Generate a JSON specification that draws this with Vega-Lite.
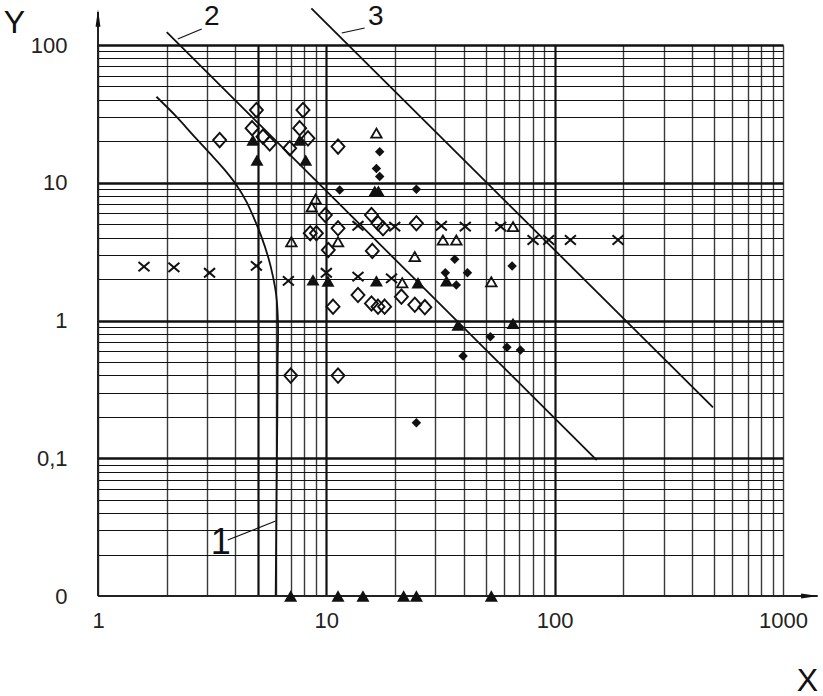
{
  "$schema": "https://vega.github.io/schema/vega-lite/v6.json",
  "width": 685,
  "height": 551,
  "autosize": {"type": "none"},
  "padding": {"left": 98, "top": 45, "right": 40, "bottom": 100},
  "background": "white",
  "config": {"view": {"stroke": null}, "font": "Liberation Sans"},
  "datasets": {
    "curves": [
      {"c": "1", "x": 1.803, "y": 42.1}, {"c": "1", "x": 2.205, "y": 30.2}, {"c": "1", "x": 2.607, "y": 22.2},
      {"c": "1", "x": 3.084, "y": 16.4}, {"c": "1", "x": 3.588, "y": 12.4}, {"c": "1", "x": 4.038, "y": 9.63},
      {"c": "1", "x": 4.466, "y": 7.29}, {"c": "1", "x": 4.857, "y": 5.37}, {"c": "1", "x": 5.195, "y": 4.06},
      {"c": "1", "x": 5.554, "y": 2.91}, {"c": "1", "x": 5.84, "y": 2.08}, {"c": "1", "x": 6.043, "y": 1.49},
      {"c": "1", "x": 6.142, "y": 0.954}, {"c": "1", "x": 6.12, "y": 0.5}, {"c": "1", "x": 6.1, "y": 0.2},
      {"c": "1", "x": 6.05, "y": 0.05}, {"c": "1", "x": 6.0, "y": 0.01},
      {"c": "2", "x": 2.0, "y": 124}, {"c": "2", "x": 152.8, "y": 0.097},
      {"c": "3", "x": 8.6, "y": 184.6}, {"c": "3", "x": 493.7, "y": 0.234}
    ],
    "leaders": [
      {"c": "1", "x": 3.70, "y": 0.0255}, {"c": "1", "x": 6.0, "y": 0.035},
      {"c": "2", "x": 2.234, "y": 110.6}, {"c": "2", "x": 2.846, "y": 130.7},
      {"c": "3", "x": 11.68, "y": 122.2}, {"c": "3", "x": 14.72, "y": 132.9}
    ],
    "axislines": [
      {"a": "x", "x": 1, "y": 0.01}, {"a": "x", "x": 1419, "y": 0.01},
      {"a": "y", "x": 1, "y": 0.01}, {"a": "y", "x": 1, "y": 173.6}
    ],
    "heads": [
      {"k": "x", "x": 1309, "y": 0.01},
      {"k": "y", "x": 1, "y": 157}
    ],
    "labels23": [
      {"t": "2", "x": 3.148, "y": 159.6},
      {"t": "3", "x": 16.45, "y": 159.6}
    ],
    "labels1": [
      {"t": "1", "x": 3.445, "y": 0.0243}
    ],
    "od": [
      {"x": 3.41, "y": 20.4}, {"x": 4.94, "y": 33.7}, {"x": 4.73, "y": 24.9}, {"x": 5.28, "y": 21.6},
      {"x": 5.65, "y": 19.3}, {"x": 7.9, "y": 33.7}, {"x": 7.64, "y": 24.9}, {"x": 8.31, "y": 21.0},
      {"x": 6.91, "y": 17.8}, {"x": 11.25, "y": 18.3}, {"x": 9.9, "y": 5.83}, {"x": 8.5, "y": 4.3},
      {"x": 9.05, "y": 4.3}, {"x": 11.25, "y": 4.67}, {"x": 10.2, "y": 3.25}, {"x": 15.76, "y": 5.83},
      {"x": 16.84, "y": 5.08}, {"x": 17.71, "y": 4.67}, {"x": 24.8, "y": 5.08}, {"x": 15.9, "y": 3.2},
      {"x": 13.76, "y": 1.53}, {"x": 10.7, "y": 1.26}, {"x": 15.76, "y": 1.33}, {"x": 16.84, "y": 1.26},
      {"x": 18.0, "y": 1.26}, {"x": 21.32, "y": 1.49}, {"x": 24.4, "y": 1.3}, {"x": 27.0, "y": 1.25},
      {"x": 6.98, "y": 0.398}, {"x": 11.25, "y": 0.398}
    ],
    "fd": [
      {"x": 17.13, "y": 16.8}, {"x": 16.57, "y": 12.7}, {"x": 17.13, "y": 11.1}, {"x": 11.44, "y": 8.86},
      {"x": 24.8, "y": 8.97}, {"x": 36.5, "y": 2.78}, {"x": 33.2, "y": 2.22}, {"x": 41.5, "y": 2.22},
      {"x": 65.1, "y": 2.49}, {"x": 37.1, "y": 1.81}, {"x": 52.3, "y": 0.763}, {"x": 61.8, "y": 0.64},
      {"x": 70.8, "y": 0.611}, {"x": 39.7, "y": 0.552}, {"x": 24.8, "y": 0.181}
    ],
    "ot": [
      {"x": 16.57, "y": 22.9}, {"x": 8.98, "y": 7.62}, {"x": 8.63, "y": 6.67}, {"x": 7.03, "y": 3.73},
      {"x": 11.25, "y": 3.73}, {"x": 24.4, "y": 2.91}, {"x": 32.4, "y": 3.84}, {"x": 37.1, "y": 3.84},
      {"x": 65.7, "y": 4.8}, {"x": 52.8, "y": 1.91}, {"x": 21.5, "y": 1.88}
    ],
    "ft": [
      {"x": 4.77, "y": 20.4}, {"x": 4.97, "y": 14.6}, {"x": 7.64, "y": 20.4}, {"x": 8.12, "y": 14.6},
      {"x": 16.3, "y": 8.7}, {"x": 16.9, "y": 8.7}, {"x": 8.74, "y": 1.97}, {"x": 10.17, "y": 1.93},
      {"x": 16.57, "y": 1.94}, {"x": 25.2, "y": 1.88}, {"x": 33.6, "y": 1.94}, {"x": 37.7, "y": 0.927},
      {"x": 65.7, "y": 0.954},
      {"x": 6.98, "y": 0.01}, {"x": 11.25, "y": 0.01}, {"x": 14.47, "y": 0.01}, {"x": 21.8, "y": 0.01},
      {"x": 24.8, "y": 0.01}, {"x": 52.8, "y": 0.01}
    ],
    "cr": [
      {"x": 1.59, "y": 2.46}, {"x": 2.15, "y": 2.43}, {"x": 3.08, "y": 2.22}, {"x": 4.94, "y": 2.49},
      {"x": 6.82, "y": 1.94}, {"x": 10.0, "y": 2.22}, {"x": 13.76, "y": 2.08}, {"x": 19.3, "y": 2.02},
      {"x": 13.76, "y": 4.87}, {"x": 19.93, "y": 4.8}, {"x": 31.9, "y": 4.87}, {"x": 40.6, "y": 4.8},
      {"x": 58.0, "y": 4.8}, {"x": 80.4, "y": 3.84}, {"x": 94.2, "y": 3.84}, {"x": 117.2, "y": 3.84},
      {"x": 189.4, "y": 3.84}
    ]
  },
  "encoding": {
    "x": {
      "field": "x",
      "type": "quantitative",
      "scale": {"type": "log", "domain": [1, 1000], "nice": false, "zero": false},
      "axis": {
        "values": [1, 2, 3, 4, 5, 6, 7, 8, 9, 10, 20, 30, 40, 50, 60, 70, 80, 90, 100, 200, 300, 400, 500, 600, 700, 800, 900, 1000],
        "labelExpr": "indexof([1, 10, 100, 1000], datum.value) >= 0 ? format(datum.value, 'd') : ''",
        "labelOverlap": false,
        "labelFlush": false,
        "labelBound": false,
        "labelFontSize": 22,
        "labelFont": "Liberation Sans",
        "labelColor": "#222",
        "labelPadding": 14,
        "ticks": false,
        "tickSize": 0,
        "domain": false,
        "grid": true,
        "gridColor": {"condition": {"test": "indexof([5, 10, 100], datum.value) >= 0", "value": "#111"}, "value": "#3a3a3a"},
        "gridWidth": {"condition": {"test": "indexof([5, 10, 100], datum.value) >= 0", "value": 2.2}, "value": 1.4},
        "gridOpacity": 1,
        "title": "X",
        "titleAngle": 0,
        "titleX": 709,
        "titleY": 84,
        "titleAlign": "center",
        "titleBaseline": "middle",
        "titleFontSize": 32,
        "titleFontWeight": "normal",
        "titleFont": "Liberation Sans",
        "titleColor": "#111"
      }
    },
    "y": {
      "field": "y",
      "type": "quantitative",
      "scale": {"type": "log", "domain": [0.01, 100], "nice": false, "zero": false},
      "axis": {
        "values": [0.01, 0.02, 0.03, 0.04, 0.05, 0.06, 0.07, 0.08, 0.09, 0.1, 0.2, 0.3, 0.4, 0.5, 0.6, 0.7, 0.8, 0.9, 1, 2, 3, 4, 5, 6, 7, 8, 9, 10, 20, 30, 40, 50, 60, 70, 80, 90, 100],
        "labelExpr": "datum.value == 0.01 ? '0' : datum.value == 0.1 ? '0,1' : datum.value == 1 ? '1' : datum.value == 10 ? '10' : datum.value == 100 ? '100' : ''",
        "labelOverlap": false,
        "labelFlush": false,
        "labelBound": false,
        "labelFontSize": 22,
        "labelFont": "Liberation Sans",
        "labelColor": "#222",
        "labelPadding": 31,
        "labelBaseline": "middle",
        "ticks": false,
        "tickSize": 0,
        "domain": false,
        "grid": true,
        "gridColor": "#111",
        "gridWidth": {"condition": {"test": "datum.value == 0.1 || datum.value == 1 || datum.value == 10 || datum.value == 100", "value": 2.4}, "value": 1},
        "gridOpacity": 1,
        "title": "Y",
        "titleAngle": 0,
        "titleX": -84,
        "titleY": -23,
        "titleAlign": "center",
        "titleBaseline": "middle",
        "titleFontSize": 32,
        "titleFontWeight": "normal",
        "titleFont": "Liberation Sans",
        "titleColor": "#111"
      }
    }
  },
  "layer": [
    {
      "data": {"name": "curves"},
      "mark": {"type": "line", "color": "#111", "strokeWidth": 1.8, "interpolate": "catmull-rom"},
      "encoding": {"detail": {"field": "c"}, "order": {"field": "y", "sort": "descending"}}
    },
    {
      "data": {"name": "leaders"},
      "mark": {"type": "line", "color": "#111", "strokeWidth": 1.2},
      "encoding": {"detail": {"field": "c"}}
    },
    {
      "data": {"name": "axislines"},
      "mark": {"type": "line", "color": "#222", "strokeWidth": 2},
      "encoding": {"detail": {"field": "a"}, "order": {"field": "y"}}
    },
    {
      "data": {"name": "heads"},
      "mark": {"type": "point", "filled": true, "color": "#111", "opacity": 1, "size": 300},
      "encoding": {
        "shape": {"field": "k", "type": "nominal", "scale": {"domain": ["x", "y"], "range": ["M1,0L-1,-0.28L-1,0.28Z", "M0,-1L-0.28,1L0.28,1Z"]}, "legend": null}
      }
    },
    {
      "data": {"name": "od"},
      "mark": {"type": "point", "shape": "M0,-1.1L1,0L0,1.1L-1,0Z", "filled": false, "color": "#111", "opacity": 1, "strokeWidth": 1.9, "size": 169}
    },
    {
      "data": {"name": "ot"},
      "mark": {"type": "point", "shape": "triangle-up", "filled": false, "color": "#111", "opacity": 1, "strokeWidth": 1.8, "size": 110}
    },
    {
      "data": {"name": "cr"},
      "mark": {"type": "point", "shape": "M-1,-0.85L1,0.85M-1,0.85L1,-0.85", "filled": false, "color": "#111", "opacity": 1, "strokeWidth": 2, "size": 121}
    },
    {
      "data": {"name": "ft"},
      "mark": {"type": "point", "shape": "triangle-up", "filled": true, "color": "#111", "opacity": 1, "size": 170}
    },
    {
      "data": {"name": "fd"},
      "mark": {"type": "point", "shape": "diamond", "filled": true, "color": "#111", "opacity": 1, "size": 90}
    },
    {
      "data": {"name": "labels23"},
      "mark": {"type": "text", "fontSize": 28, "font": "Liberation Sans", "color": "#111", "align": "center", "baseline": "middle"},
      "encoding": {"text": {"field": "t"}}
    },
    {
      "data": {"name": "labels1"},
      "mark": {"type": "text", "fontSize": 36, "font": "Liberation Sans", "color": "#111", "align": "center", "baseline": "middle"},
      "encoding": {"text": {"field": "t"}}
    }
  ]
}
